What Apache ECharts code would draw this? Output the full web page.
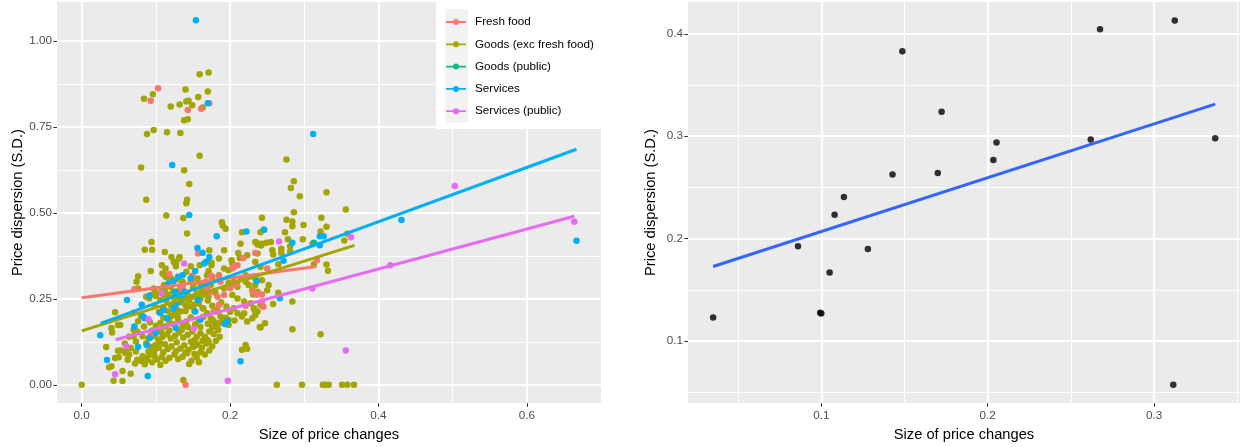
<!DOCTYPE html>
<html>
<head>
<meta charset="utf-8">
<script src="https://cdn.jsdelivr.net/npm/echarts@6/dist/echarts.min.js"></script>
<style>
html,body{margin:0;padding:0;background:#fff}
#chart{width:1248px;height:447px}
</style>
</head>
<body>
<div id="chart"></div>
<script>
// ---- Left panel: price dispersion vs size of price changes, by item group ----
const groupNames = ['Fresh food', 'Goods (exc fresh food)', 'Goods (public)', 'Services', 'Services (public)'];

const freshFood = [
  [0.103,0.862],[0.093,0.826],[0.143,0.799],[0.161,0.803],[0.172,0.819],[0.140,0.0],
  [0.071,0.278],[0.218,0.369],[0.210,0.348],[0.203,0.338],[0.317,0.362],[0.311,0.410],
  [0.221,0.230],[0.243,0.242],[0.245,0.227],[0.236,0.262],[0.136,0.276],[0.133,0.286],
  [0.149,0.317],[0.157,0.382],[0.185,0.317],[0.187,0.300],[0.169,0.281],[0.173,0.271],
  [0.178,0.213],[0.185,0.232],[0.202,0.290],[0.200,0.281],[0.209,0.295],[0.231,0.271],
  [0.243,0.263],[0.250,0.338],[0.234,0.383],[0.205,0.343],[0.174,0.317],[0.167,0.300],
  [0.118,0.322],[0.192,0.261],[0.183,0.256],[0.093,0.145]
];

const goods = [
  // upper scatter
  [0.159,0.903],[0.171,0.908],[0.140,0.859],[0.170,0.853],[0.096,0.845],[0.084,0.832],
  [0.157,0.837],[0.144,0.826],[0.141,0.824],[0.132,0.815],[0.120,0.809],[0.149,0.813],
  [0.163,0.806],[0.138,0.769],[0.143,0.772],[0.097,0.741],[0.088,0.729],[0.115,0.734],
  [0.133,0.732],[0.159,0.666],[0.080,0.632],[0.138,0.624],[0.145,0.584],[0.142,0.538],
  [0.141,0.528],[0.087,0.538],[0.114,0.492],[0.137,0.485],[0.142,0.440],
  // middle band
  [0.094,0.415],[0.085,0.393],[0.095,0.393],[0.112,0.386],[0.121,0.372],[0.108,0.348],
  [0.110,0.322],[0.117,0.311],[0.076,0.316],[0.074,0.300],[0.076,0.280],[0.097,0.280],
  [0.100,0.266],[0.100,0.258],[0.087,0.256],[0.111,0.290],[0.112,0.275],[0.124,0.271],
  [0.125,0.251],[0.194,0.454],[0.190,0.463],[0.131,0.367],[0.127,0.353],[0.127,0.345],
  [0.141,0.329],[0.185,0.367],[0.192,0.391],[0.211,0.383],[0.202,0.362],[0.203,0.353],
  [0.214,0.410],[0.237,0.408],[0.242,0.405],[0.241,0.444],[0.245,0.451],[0.234,0.357],
  [0.241,0.343],[0.159,0.348],[0.175,0.348],[0.171,0.330],[0.192,0.338],[0.198,0.333],
  [0.185,0.319],[0.113,0.314],[0.120,0.285],[0.147,0.300],[0.151,0.295],[0.205,0.300],
  [0.210,0.285],[0.221,0.300],[0.225,0.290],[0.234,0.290],[0.243,0.304],[0.230,0.275],
  [0.237,0.271],[0.203,0.261],[0.210,0.251],[0.219,0.242],[0.228,0.237],[0.163,0.261],
  [0.169,0.271],[0.171,0.256],[0.140,0.251],[0.149,0.256],[0.156,0.261],[0.122,0.266],
  [0.129,0.256],[0.124,0.357],[0.132,0.372],[0.113,0.338],[0.121,0.309],[0.131,0.307],
  [0.136,0.300],[0.156,0.309],[0.160,0.295],[0.169,0.319],[0.176,0.314],[0.214,0.309],
  [0.221,0.319],[0.232,0.314],[0.234,0.415],[0.223,0.377],[0.216,0.444],[0.091,0.251],
  [0.093,0.261],[0.106,0.247],[0.111,0.261],[0.120,0.232],[0.124,0.218],[0.129,0.199],
  [0.133,0.213],[0.140,0.232],[0.145,0.247],[0.151,0.232],[0.156,0.242],[0.163,0.223],
  [0.169,0.208],[0.174,0.194],[0.178,0.184],[0.183,0.213],[0.187,0.199],[0.192,0.189],
  [0.198,0.174],[0.205,0.223],[0.210,0.208],[0.216,0.199],[0.223,0.184],[0.230,0.194],
  [0.237,0.213],[0.241,0.232],[0.221,0.116],[0.216,0.102],[0.172,0.391],[0.175,0.355],
  [0.147,0.345],[0.109,0.324],[0.093,0.331],[0.099,0.271],[0.110,0.281],[0.213,0.369],
  // right-hand group
  [0.286,0.592],[0.282,0.572],[0.294,0.548],[0.330,0.560],[0.286,0.502],[0.356,0.510],
  [0.276,0.655],[0.243,0.486],[0.276,0.480],[0.284,0.475],[0.284,0.461],[0.299,0.465],
  [0.274,0.444],[0.323,0.486],[0.330,0.460],[0.322,0.446],[0.236,0.413],[0.243,0.410],
  [0.249,0.413],[0.255,0.415],[0.278,0.423],[0.298,0.423],[0.354,0.420],[0.358,0.439],
  [0.237,0.382],[0.257,0.391],[0.258,0.379],[0.269,0.396],[0.269,0.384],[0.281,0.403],
  [0.281,0.388],[0.265,0.351],[0.313,0.351],[0.330,0.350],[0.332,0.332],[0.234,0.309],
  [0.252,0.290],[0.250,0.275],[0.265,0.268],[0.231,0.263],[0.232,0.223],[0.258,0.235],
  [0.284,0.242],[0.240,0.168],[0.284,0.162],[0.322,0.147],[0.189,0.473],
  // zero dispersion
  [0,0],[0.263,0],[0.297,0],[0.325,0],[0.328,0],[0.333,0],[0.351,0],[0.358,0],[0.367,0],
  [0.137,0.014],[0.223,0.105],[0.206,0.187],[0.219,0.208],[0.233,0.218],[0.234,0.203],
  [0.241,0.167],[0.247,0.179],[0.153,0.114],[0.169,0.131],[0.171,0.126],[0.176,0.167],
  [0.180,0.174],[0.185,0.179],[0.192,0.184],[0.198,0.189],[0.151,0.116],
  // dense core
  [0.072,0.062],[0.080,0.070],[0.088,0.078],[0.095,0.066],[0.102,0.074],[0.108,0.082],
  [0.113,0.070],[0.118,0.078],[0.125,0.088],[0.130,0.075],[0.136,0.082],[0.142,0.092],
  [0.106,0.058],[0.098,0.085],[0.090,0.096],[0.085,0.060],
  [0.098,0.100],[0.104,0.108],[0.110,0.095],[0.116,0.104],[0.121,0.112],[0.127,0.098],
  [0.133,0.106],[0.138,0.115],[0.144,0.102],[0.150,0.110],[0.156,0.118],[0.162,0.108],
  [0.168,0.120],[0.112,0.118],[0.105,0.124],[0.099,0.115],[0.093,0.110],[0.087,0.120],
  [0.147,0.125],[0.128,0.124],[0.140,0.094],
  [0.148,0.070],[0.155,0.080],[0.160,0.095],[0.166,0.088],[0.172,0.100],[0.176,0.112],
  [0.158,0.066],[0.145,0.061],[0.152,0.090],[0.181,0.128],[0.186,0.140],
  [0.090,0.135],[0.097,0.142],[0.103,0.132],[0.109,0.140],[0.115,0.148],[0.120,0.135],
  [0.126,0.143],[0.131,0.152],[0.137,0.138],[0.143,0.146],[0.149,0.155],[0.155,0.140],
  [0.160,0.150],[0.166,0.140],[0.172,0.155],[0.178,0.148],[0.184,0.160],[0.118,0.158],
  [0.107,0.155],[0.095,0.158],[0.135,0.160],[0.152,0.130],[0.163,0.128],
  [0.100,0.172],[0.106,0.180],[0.112,0.170],[0.118,0.185],[0.124,0.176],[0.130,0.190],
  [0.136,0.172],[0.141,0.184],[0.147,0.196],[0.153,0.176],[0.158,0.188],[0.164,0.198],
  [0.170,0.178],[0.176,0.190],[0.182,0.172],[0.188,0.182],[0.194,0.195],[0.110,0.195],
  [0.121,0.200],[0.143,0.168],[0.160,0.168],[0.092,0.182],
  [0.104,0.212],[0.110,0.225],[0.116,0.214],[0.122,0.232],[0.128,0.220],[0.134,0.240],
  [0.140,0.215],[0.146,0.228],[0.152,0.214],[0.158,0.236],[0.164,0.222],[0.170,0.245],
  [0.176,0.230],[0.182,0.218],[0.188,0.240],[0.195,0.228],[0.200,0.212],[0.098,0.230],
  [0.114,0.245],[0.160,0.250],[0.126,0.205],
  [0.118,0.262],[0.130,0.272],[0.142,0.265],[0.150,0.282],[0.162,0.276],[0.174,0.290],
  [0.180,0.268],[0.192,0.280],[0.198,0.296],[0.136,0.288],[0.108,0.275],[0.155,0.268],
  // low-left fringe
  [0.060,0.100],[0.058,0.120],[0.052,0.100],[0.064,0.140],[0.070,0.160],[0.076,0.185],
  [0.080,0.200],[0.070,0.210],[0.045,0.211],[0.040,0.165],[0.049,0.174],[0.052,0.174],
  [0.041,0.152],[0.033,0.110],[0.037,0.051],[0.040,0.054],[0.049,0.099],[0.050,0.080],
  [0.045,0.078],[0.055,0.040],[0.043,0.012],[0.055,0.011],[0.066,0.032],[0.062,0.073],
  [0.064,0.088],[0.059,0.092],[0.066,0.107],[0.073,0.097],[0.075,0.073],[0.082,0.083],
  [0.084,0.068],[0.088,0.073],[0.093,0.088],[0.070,0.141],[0.075,0.155],[0.073,0.126],
  [0.082,0.141],[0.084,0.170]
];

const goodsPublic = [[0.313,0.413]];

const services = [
  [0.154,1.060],[0.170,0.819],[0.122,0.639],[0.312,0.729],[0.145,0.494],[0.182,0.432],
  [0.222,0.446],[0.246,0.451],[0.156,0.398],[0.163,0.384],[0.172,0.372],[0.168,0.358],
  [0.165,0.353],[0.284,0.413],[0.321,0.406],[0.326,0.432],[0.321,0.432],[0.272,0.361],
  [0.431,0.479],[0.236,0.302],[0.153,0.331],[0.136,0.319],[0.130,0.314],[0.124,0.302],
  [0.147,0.310],[0.267,0.252],[0.061,0.247],[0.157,0.247],[0.091,0.259],[0.081,0.233],
  [0.083,0.199],[0.085,0.194],[0.071,0.170],[0.153,0.213],[0.160,0.189],[0.196,0.185],
  [0.193,0.177],[0.025,0.144],[0.034,0.072],[0.076,0.111],[0.088,0.115],[0.092,0.137],
  [0.100,0.151],[0.127,0.165],[0.214,0.069],[0.089,0.026],[0.106,0.209],[0.115,0.194],
  [0.110,0.218],[0.124,0.223],[0.128,0.237],[0.135,0.252],[0.139,0.271],[0.117,0.295],
  [0.126,0.271],[0.667,0.419]
];

const servicesPublic = [
  [0.138,0.353],[0.266,0.417],[0.363,0.429],[0.416,0.348],[0.311,0.280],[0.356,0.100],
  [0.197,0.012],[0.060,0.112],[0.045,0.031],[0.108,0.266],[0.090,0.191],[0.151,0.163],
  [0.503,0.578],[0.664,0.474]
];

// fitted straight lines (start and end of each group's fit)
const fitFreshX = [0, 0.3165],          fitFreshY = [0.2535, 0.344];
const fitGoodsX = [0, 0.3677],          fitGoodsY = [0.157, 0.4055];
const fitServicesX = [0.0256, 0.667],   fitServicesY = [0.179, 0.685];
const fitServPubX = [0.0458, 0.664],    fitServPubY = [0.131, 0.490];

const leftXTicks = [0, 0.2, 0.4, 0.6];
const leftXMinor = [0.1, 0.3, 0.5];
const leftYTicks = [0, 0.25, 0.5, 0.75, 1.0];
const leftYMinor = [0.125, 0.375, 0.625, 0.875];

// ---- Right panel: aggregate points with a single fit ----
const aggX = [0.035,0.086,0.0993,0.100,0.105,0.108,0.1136,0.128,0.1428,0.1487,0.170,0.1723,0.2034,0.2053,0.2619,0.2675,0.3124,0.3115,0.3367];
const aggY = [0.1232,0.1926,0.1277,0.127,0.167,0.2235,0.2406,0.190,0.2626,0.383,0.2642,0.324,0.2768,0.2939,0.2968,0.4045,0.4129,0.0574,0.298];
const fitAggX = [0.035, 0.3367], fitAggY = [0.1729, 0.3313];

const rightXTicks = [0.1, 0.2, 0.3];
const rightXMinor = [0.05, 0.15, 0.25, 0.35];
const rightYTicks = [0.1, 0.2, 0.3, 0.4];
const rightYMinor = [0.05, 0.15, 0.25, 0.35];

const colors = ['#F8766D', '#A3A500', '#00BF7D', '#00B0F6', '#E76BF3'];
const FONT = '"Liberation Sans", Arial, Helvetica, sans-serif';

const pairs = (xs, ys) => xs.map((x, i) => [x, ys[i]]);

function majorAxis(gridIndex, min, max, ticks, digits, name, nameGap, position, labelMargin) {
  return {
    type: 'value', gridIndex, min, max, position,
    name, nameLocation: 'middle', nameGap,
    nameTextStyle: { color: '#000', fontSize: 14.7, fontFamily: FONT },
    axisLine: { show: false, onZero: false },
    axisTick: { show: true, customValues: ticks, length: 3.7, lineStyle: { color: '#333333', width: 1 } },
    axisLabel: { customValues: ticks, formatter: v => v.toFixed(digits), color: '#4D4D4D', fontSize: 11.7, fontFamily: FONT, margin: labelMargin },
    splitLine: { show: true, lineStyle: { color: '#FFFFFF', width: 1.9 } },
    minorSplitLine: { show: false }
  };
}
function minorAxis(gridIndex, min, max, ticks, position) {
  return {
    type: 'value', gridIndex, min, max, position,
    axisLine: { show: false, onZero: false },
    axisTick: { show: false, customValues: ticks },
    axisLabel: { show: false, customValues: ticks },
    splitLine: { show: true, lineStyle: { color: '#FFFFFF', width: 0.95 } }
  };
}

const scatter = (name, data, color, xi, yi) => ({
  name, type: 'scatter', data, xAxisIndex: xi, yAxisIndex: yi,
  symbol: 'circle', symbolSize: 6.5, itemStyle: { color, opacity: 1 }, z: 2, silent: true
});
const fitLine = (name, data, color, xi, yi) => ({
  name, type: 'line', data, xAxisIndex: xi, yAxisIndex: yi,
  symbol: 'none', lineStyle: { color, width: 3 }, itemStyle: { color }, z: 3, silent: true
});

const keyIcon = 'path://M0,2.1 L20,2.1 L20,3.9 L0,3.9 Z M7,3 A3,3 0 1,1 13,3 A3,3 0 1,1 7,3 Z';

const chart = echarts.init(document.getElementById('chart'), null, { renderer: 'canvas' });
chart.setOption({
  animation: false,
  backgroundColor: '#FFFFFF',
  textStyle: { fontFamily: FONT },
  grid: [
    { left: 57, top: 2, width: 544, height: 403, show: true, backgroundColor: '#EBEBEB', borderWidth: 0 },
    { left: 688, top: 2, right: 8, height: 403, show: true, backgroundColor: '#EBEBEB', borderWidth: 0 }
  ],
  xAxis: [
    majorAxis(0, -0.0333, 0.70, leftXTicks, 1, 'Size of price changes', 20, 'bottom', 7),
    minorAxis(0, -0.0333, 0.70, leftXMinor, 'top'),
    majorAxis(1, 0.0199, 0.3516, rightXTicks, 1, 'Size of price changes', 20, 'bottom', 7),
    minorAxis(1, 0.0199, 0.3516, rightXMinor, 'top')
  ],
  yAxis: [
    majorAxis(0, -0.053, 1.113, leftYTicks, 2, 'Price dispersion (S.D.)', 32, 'left', 5),
    minorAxis(0, -0.053, 1.113, leftYMinor, 'right'),
    majorAxis(1, 0.0396, 0.431, rightYTicks, 1, 'Price dispersion (S.D.)', 30, 'left', 5),
    minorAxis(1, 0.0396, 0.431, rightYMinor, 'right')
  ],
  graphic: [
    { type: 'rect', left: 436, top: 0, z: 10, shape: { width: 166, height: 129 }, style: { fill: '#FFFFFF' }, silent: true },
    { type: 'rect', left: 445, top: 9, z: 10, shape: { width: 23, height: 114 }, style: { fill: '#F2F2F2' }, silent: true }
  ],
  legend: {
    orient: 'vertical', left: 446, top: 16, z: 20,
    itemWidth: 20, itemHeight: 6, itemGap: 10.3, padding: 0,
    icon: keyIcon,
    data: groupNames,
    selectedMode: false,
    textStyle: { color: '#000', fontSize: 11.7, fontFamily: FONT, padding: [0, 0, 0, 4] }
  },
  series: [
    scatter(groupNames[1], goods, colors[1], 0, 0),
    scatter(groupNames[0], freshFood, colors[0], 0, 0),
    scatter(groupNames[2], goodsPublic, colors[2], 0, 0),
    scatter(groupNames[3], services, colors[3], 0, 0),
    scatter(groupNames[4], servicesPublic, colors[4], 0, 0),
    fitLine(groupNames[0], pairs(fitFreshX, fitFreshY), colors[0], 0, 0),
    fitLine(groupNames[1], pairs(fitGoodsX, fitGoodsY), colors[1], 0, 0),
    fitLine(groupNames[3], pairs(fitServicesX, fitServicesY), colors[3], 0, 0),
    fitLine(groupNames[4], pairs(fitServPubX, fitServPubY), colors[4], 0, 0),
    {
      name: 'aggregate', type: 'scatter', data: pairs(aggX, aggY), xAxisIndex: 2, yAxisIndex: 2,
      symbol: 'circle', symbolSize: 6.5, itemStyle: { color: '#000000' }, z: 2, silent: true
    },
    {
      name: 'aggregate fit', type: 'line', data: pairs(fitAggX, fitAggY), xAxisIndex: 2, yAxisIndex: 2,
      symbol: 'none', lineStyle: { color: '#3366FF', width: 3 }, z: 3, silent: true
    }
  ]
});
</script>
</body>
</html>
